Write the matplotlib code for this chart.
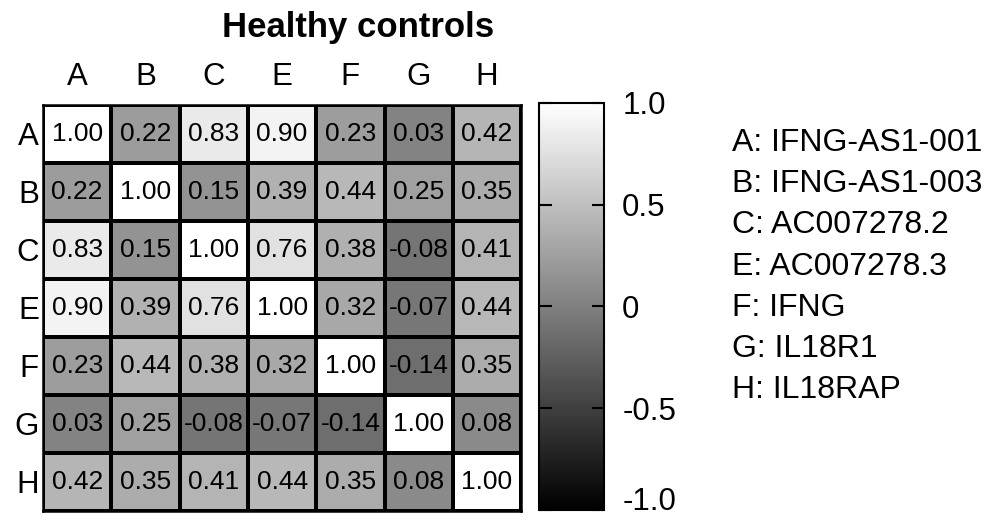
import numpy as np
import matplotlib
matplotlib.use('Agg')
import matplotlib.pyplot as plt

plt.rcParams['font.family'] = ['Liberation Sans', 'DejaVu Sans']

genes = ['A', 'B', 'C', 'E', 'F', 'G', 'H']
gene_names = ['IFNG-AS1-001', 'IFNG-AS1-003', 'AC007278.2', 'AC007278.3',
              'IFNG', 'IL18R1', 'IL18RAP']

corr = np.array([
    [1.00, 0.22, 0.83, 0.90, 0.23, 0.03, 0.42],
    [0.22, 1.00, 0.15, 0.39, 0.44, 0.25, 0.35],
    [0.83, 0.15, 1.00, 0.76, 0.38, -0.08, 0.41],
    [0.90, 0.39, 0.76, 1.00, 0.32, -0.07, 0.44],
    [0.23, 0.44, 0.38, 0.32, 1.00, -0.14, 0.35],
    [0.03, 0.25, -0.08, -0.07, -0.14, 1.00, 0.08],
    [0.42, 0.35, 0.41, 0.44, 0.35, 0.08, 1.00],
])

cbar_ticks = [-1.0, -0.5, 0.0, 0.5, 1.0]
cbar_labels = ['-1.0', '-0.5', '0', '0.5', '1.0']

fig = plt.figure(figsize=(9.96, 5.22), dpi=100)
ax = fig.add_axes([0.0432, 0.0211, 0.480, 0.7778])
cax = fig.add_axes([0.5412, 0.0230, 0.0653, 0.7797])

n = len(genes)
mesh = ax.pcolormesh(np.arange(n + 1), np.arange(n + 1), corr,
                     cmap='gray', vmin=-1, vmax=1,
                     edgecolors='black', linewidth=1.5)
ax.set_xlim(0, n)
ax.set_ylim(n, 0)

for i in range(n):
    for j in range(n):
        ax.text(j + 0.5, i + 0.5, f'{corr[i, j]:.2f}',
                ha='center', va='center', fontsize=19, color='black')

ax.xaxis.tick_top()
ax.set_xticks(np.arange(n) + 0.5)
ax.set_xticklabels(genes, fontsize=22.5)
ax.set_yticks(np.arange(n) + 0.5)
ax.set_yticklabels(genes, fontsize=22.5)
ax.tick_params(axis='x', length=0, pad=9)
ax.tick_params(axis='y', length=0, pad=3)
for sp in ax.spines.values():
    sp.set_linewidth(1.8)

cb = fig.colorbar(mesh, cax=cax)
cb.set_ticks(cbar_ticks)
cb.set_ticklabels(cbar_labels)
cb.outline.set_linewidth(1.5)
cax.tick_params(axis='y', direction='in', length=9, width=1.5,
                left=True, right=True, labelsize=22.5, pad=13)
# keep the lowest label inside the figure
cax.get_yticklabels()[0].set_va('baseline')

fig.text(0.359, 1 - 37 / 522, 'Healthy controls', ha='center', va='baseline',
         fontsize=25, fontweight='bold')

y0 = 143
for k, (g, name) in enumerate(zip(genes, gene_names)):
    fig.text(0.735, 1 - (y0 + k * 41.2) / 522, f'{g}: {name}',
             ha='left', va='center', fontsize=23)

fig.savefig('out.png', dpi=100)
